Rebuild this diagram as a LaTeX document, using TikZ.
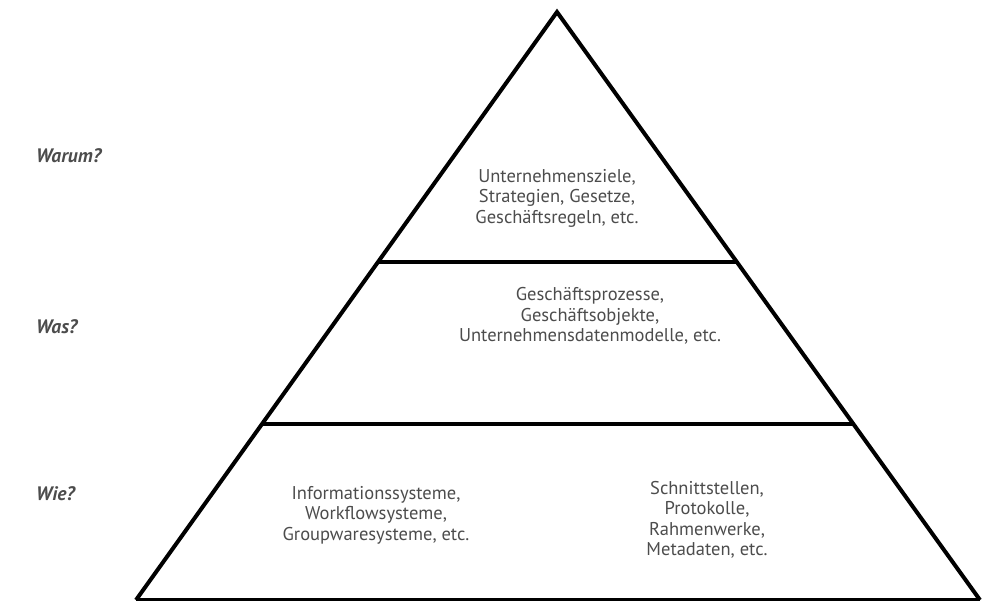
\documentclass[tikz,border=0pt]{standalone}
\usepackage{fontspec}
\setmainfont{PT Sans}
\begin{document}
\begin{tikzpicture}[x=1pt,y=-1pt,
  edge/.style={line width=4pt, line join=miter, black},
  body/.style={text=black!70, font=\fontsize{18.5}{20.5}\selectfont, align=center, inner sep=0pt},
  level/.style={text=black!70, font=\fontsize{19.5}{21}\selectfont\bfseries\itshape, anchor=west, inner sep=0pt}]
  \useasboundingbox (0,0) rectangle (991,600);
  % pyramid corners
  \coordinate (apex) at (557,12);
  \coordinate (bl) at (136,600);
  \coordinate (br) at (980,600);
  \coordinate (l1) at (378,262);
  \coordinate (r1) at (736,262);
  \coordinate (l2) at (261,424);
  \coordinate (r2) at (853,424);
  \draw[edge] (bl) -- (apex) -- (br);
  \draw[edge] (bl) -- (br);
  \draw[edge] (l1) -- (r1);
  \draw[edge] (l2) -- (r2);
  % level labels
  \node[level] (warum) at (36,156) {Warum?};
  \node[level] (was) at (36,327) {Was?};
  \node[level] (wie) at (36,494) {Wie?};
  % contents
  \node[body] (ziele) at (557,198) {Unternehmensziele,\\Strategien, Gesetze,\\Geschäftsregeln, etc.};
  \node[body] (prozesse) at (590,316) {Geschäftsprozesse,\\Geschäftsobjekte,\\Unternehmensdatenmodelle, etc.};
  \node[body] (systeme) at (376,515) {Informationssysteme,\\Workflowsysteme,\\Groupwaresysteme, etc.};
  \node[body] (schnitt) at (707,520) {Schnittstellen,\\Protokolle,\\Rahmenwerke,\\Metadaten, etc.};
\end{tikzpicture}
\end{document}
